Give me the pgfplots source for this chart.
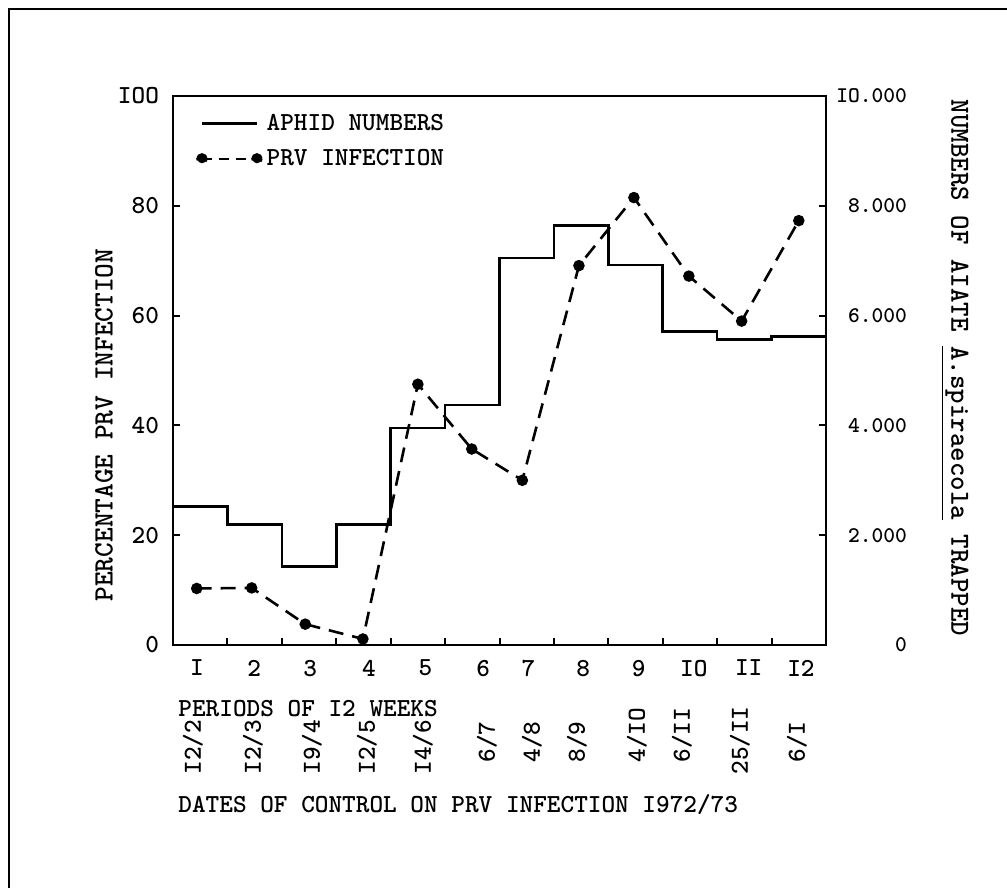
\documentclass[border=0pt]{standalone}
\usepackage{fontspec}
\usepackage{pgfplots}
\pgfplotsset{compat=1.18}
\newcommand{\tw}{\ttfamily\bfseries\fontsize{13}{15}\selectfont}
\newcommand{\twl}{\ttfamily\bfseries\fontsize{14}{16}\selectfont}
\newcommand{\tws}{\ttfamily\bfseries\fontsize{11.2}{13}\selectfont}
\pgfplotsset{
  aphidleg/.style={legend image code/.code={\draw[line width=1.3pt] (0pt,0pt) -- (27.5pt,0pt);}},
  prvleg/.style={legend image code/.code={\draw[line width=1.3pt, dash pattern=on 5pt off 3.5pt] (0pt,0pt) -- (27.5pt,0pt); \fill (0pt,0pt) circle (2.2pt); \fill (27.5pt,0pt) circle (2.2pt);}},
  common/.style={at={(86.5pt,-322.5pt)}, anchor=south west, scale only axis,
    width=326.5pt, height=274.5pt, xmin=0, xmax=12,
    axis line style={line width=1.4pt},
    tick align=inside, major tick length=3.5pt,
    every tick/.style={black, line width=1pt},
    tick label style={font=\tw}},
}
\begin{document}
\begin{tikzpicture}[x=0.5pt,y=-0.5pt]
\useasboundingbox (0,0) rectangle (1007,888);
\draw[line width=1.3pt] (9,888) -- (9,9) -- (1007,9);

\begin{axis}[common,
  ymin=0, ymax=100,
  xtick pos=left, ytick pos=left,
  xtick={1,...,11}, xticklabels={},
  extra x ticks={0.44,1.49,2.52,3.60,4.64,5.70,6.53,7.54,8.56,9.57,10.58,11.54},
  extra x tick labels={I,2,3,4,5,6,7,8,9,IO,II,I2},
  extra x tick style={major tick length=0pt, xticklabel style={yshift=-4pt}},
  ytick={0,20,40,60,80,100}, yticklabels={0,20,40,60,80,IOO},
  yticklabel style={xshift=-3.5pt},
  legend style={at={(0.035,0.975)}, anchor=north west, draw=none, fill=none,
    font=\tw, row sep=4pt, inner sep=0pt,
    /tikz/every even column/.style={column sep=10pt}},
  legend cell align=left,
]
\addlegendimage{aphidleg}
\addlegendentry{APHID NUMBERS}
\addplot[black, line width=1.3pt, dash pattern=on 7.5pt off 4.5pt,
  mark=*, mark size=2.2pt, mark options={solid}, prvleg]
  coordinates {(0.436,10.3) (1.446,10.4) (2.43,3.8) (3.49,1.1) (4.50,47.5)
  (5.49,35.7) (6.42,30.0) (7.46,69.1) (8.47,81.5) (9.48,67.2) (10.45,59.0) (11.50,77.3)};
\addlegendentry{PRV INFECTION}
\end{axis}

\begin{axis}[common,
  ymin=0, ymax=10000,
  axis x line=none, axis y line*=right,
  ytick={0,2000,4000,6000,8000,10000},
  yticklabels={0,2.000,4.000,6.000,8.000,IO.000},
  scaled y ticks=false,
  yticklabel style={anchor=east, xshift=44pt, font=\tws},
]
\addplot[const plot, black, line width=1.3pt] coordinates {
  (0,2520) (1,2200) (2,1430) (3,2190) (4,3950) (5,4370) (6,7050)
  (7,7640) (8,6920) (9,5710) (10,5570) (11,5620) (12,5620)};
\end{axis}

\tikzset{dl/.style={rotate=90, anchor=west, inner sep=0pt, font=\tw}}
\node[dl] at (193,775) {I2/2};
\node[dl] at (253,775) {I2/3};
\node[dl] at (312,775) {I9/4};
\node[dl] at (367,775) {I2/5};
\node[dl] at (423,775) {I4/6};
\node[dl] at (487,763) {6/7};
\node[dl] at (532,763) {4/8};
\node[dl] at (577,763) {8/9};
\node[dl] at (637,763) {4/IO};
\node[dl] at (682,763) {6/II};
\node[dl] at (740,775) {25/II};
\node[dl] at (797,763) {6/I};

\node[anchor=west, inner sep=0pt, font=\tw] at (178,709) {PERIODS OF I2 WEEKS};
\node[anchor=west, inner sep=0pt, font=\tw] at (178,805) {DATES OF CONTROL ON PRV INFECTION I972/73};
\node[rotate=90, inner sep=0pt, font=\twl] at (104,425) {PERCENTAGE PRV INFECTION};
\node[rotate=-90, inner sep=0pt, font=\ttfamily\bfseries\fontsize{13.8}{16}\selectfont] at (955,368) {NUMBERS OF AIATE \underline{A.spiraecola} TRAPPED};
\end{tikzpicture}
\end{document}
